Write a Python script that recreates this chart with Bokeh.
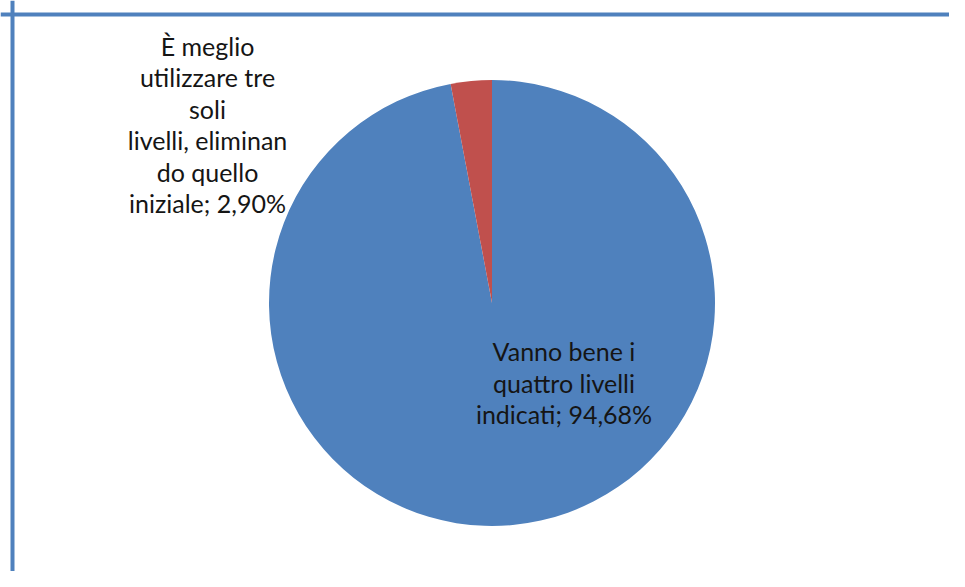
import math
from bokeh.plotting import figure
from bokeh.models import Range1d, Span
from bokeh.core.properties import value
from bokeh.embed import file_html
from bokeh.resources import INLINE

# Data
categories = ["Vanno bene i quattro livelli indicati",
              "È meglio utilizzare tre soli livelli, eliminando quello iniziale"]
values = [94.68, 2.90]
labels = ["Vanno bene i\nquattro livelli\nindicati; 94,68%",
          "È meglio\nutilizzare tre\nsoli\nlivelli, eliminan\ndo quello\niniziale; 2,90%"]
colors = ["#4F81BD", "#C0504D"]

W, H = 949, 571
p = figure(width=W, height=H, output_backend="svg", toolbar_location=None,
           x_range=Range1d(0, W), y_range=Range1d(0, H), min_border=0,
           outline_line_color=None, background_fill_color="white",
           border_fill_color="white")
p.axis.visible = False
p.grid.visible = False

# frame
p.add_layout(Span(location=12, dimension="height", line_color="#4F81BD", line_width=4))
p.add_layout(Span(location=H - 14, dimension="width", line_color="#4F81BD", line_width=4))

cx, cy, r = 491.5, H - 302.5, 223
total = sum(values)
start = math.pi / 2
starts, ends = [], []
for v in values:
    a = 2 * math.pi * v / total
    starts.append(start)
    ends.append(start - a)
    start -= a

p.wedge(x=[cx] * len(values), y=[cy] * len(values), radius=r, radius_units="data",
        start_angle=starts, end_angle=ends, direction="clock",
        fill_color=colors, line_color=None)

label_x = [563.5, 207]
label_y = [H - 382, H - 124]
p.text(x=label_x, y=label_y, text=labels, text_font=value("Lato"),
       text_font_size="25px", text_color="#151515", text_align="center",
       text_baseline="middle", text_line_height=1.05)

open("out.html", "w").write(file_html(p, INLINE))
